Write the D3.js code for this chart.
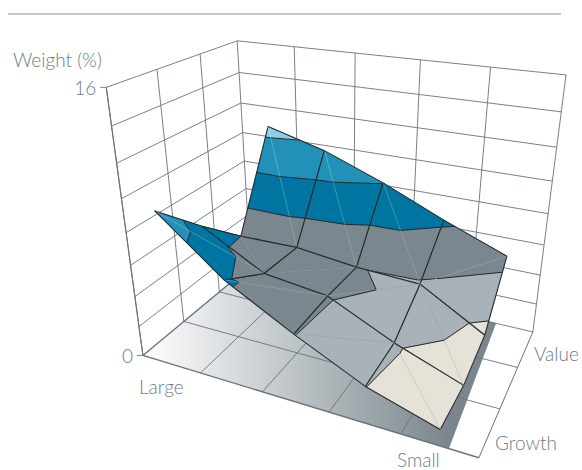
<!DOCTYPE html>
<html><head><meta charset="utf-8">
<script src="https://cdn.jsdelivr.net/npm/d3@7/dist/d3.min.js"></script>
<style>html,body{margin:0;background:#fff}svg{display:block}text{font-family:Lato,sans-serif;font-size:19px;font-weight:300;fill:#6f7b83}</style>
</head><body><svg id="chart" width="582" height="470"></svg>
<script>
// Portfolio weight by size (Large to Small) and style (Growth to Value)
const sizeCount = 5;
const styleCount = 4;
const weightLarge  = [9.49, 6.86, 4.43, 10.6];
const weightUpper  = [6.28, 4.66, 4.49, 9.55];
const weightMiddle = [4.05, 4.17, 4.035, 8.04];
const weightLower  = [2.02, 2.2, 3.84, 6.28];
const weightSmall  = [0.7, 0.63, 1.43, 4.68];
const weights = [weightLarge, weightUpper, weightMiddle, weightLower, weightSmall];

// Triangulation of each surface cell: "/" joins (i,j)-(i+1,j+1), "\\" joins (i,j+1)-(i+1,j)
const cellDiagonals = [["/", "\\", "\\"], ["/", "/", "\\"], ["/", "/", "\\"], ["\\", "\\", "/"]];
const quietSeams = ["0,1", "1,1"];
// Sliver of the 6-8 band folded behind the ridge along the Large edge
const foldedSliver = [[0, 1], [0, 2], [0.44, 1]];

const bandLevels = [2, 4, 6, 8, 10];
const bandColors = ["#e6e2d8", "#a9b2b9", "#7b878e", "#0075a1", "#2291b7", "#8ccfe3"];
const seamColors = ["#c9c7bc", "#9ca5ab", "#939da3", "#4a9fc0", "#66b3cf", "#b5e0ee"];
const weightTicks = [0, 2, 4, 6, 8, 10, 12, 14, 16];
const sizeTicks = [0, 0.2, 0.4, 0.6, 0.8, 1];
const styleTicks = [0, 1 / 3, 2 / 3, 1];

const sizeScale = d3.scaleLinear([0, sizeCount - 1], [0.09, 0.895]);
const styleScale = d3.scaleLinear([0, styleCount - 1], [0.03, 1.02]);
const weightScale = d3.scaleLinear([0, 16], [0, 1]);
const seamColor = d3.scaleThreshold(bandLevels, seamColors);

// Projective camera for the unit box
const cam = [253.4675, 163.4932, -53.21226, 142.9306,
             23.50657, -30.16429, -281.6961, 355.4296,
             -0.1722361, 0.2229560, -0.1555825];
const depth = (X, Y, Z) => cam[8] * X + cam[9] * Y + cam[10] * Z + 1;
const project = (X, Y, Z) => {
  const w = depth(X, Y, Z);
  return [(cam[0] * X + cam[1] * Y + cam[2] * Z + cam[3]) / w,
          (cam[4] * X + cam[5] * Y + cam[6] * Z + cam[7]) / w];
};
const toScreen = p => project(sizeScale(p.i), styleScale(p.j), weightScale(p.z));
const toDepth = p => depth(sizeScale(p.i), styleScale(p.j), weightScale(p.z));

const svg = d3.select("#chart");
const line = d3.line();
const closed = d3.line().curve(d3.curveLinearClosed);
const boxLine = (a, b, stroke, width) => svg.append("path")
  .attr("d", line([project(...a), project(...b)]))
  .attr("fill", "none").attr("stroke", stroke).attr("stroke-width", width);

// Rule under the heading
svg.append("path").attr("d", line([[8, 14], [561, 14]])).attr("stroke", "#b3b7ba").attr("stroke-width", 1.6);

// Floor shading runs from white at the Large side to slate at the Small side
const defs = svg.append("defs");
const grad = defs.append("linearGradient").attr("id", "floorShade")
  .attr("gradientUnits", "userSpaceOnUse").attr("x1", 143).attr("x2", 450).attr("y1", 0).attr("y2", 0);
grad.append("stop").attr("offset", 0).attr("stop-color", "#ffffff");
grad.append("stop").attr("offset", 1).attr("stop-color", "#7a868c");
const floorOutline = [[0, 0], [0.925, 0], [0.886, 1], [0, 1]];
svg.append("path")
  .attr("d", closed(floorOutline.map(([x, y]) => project(x, y, 0))))
  .attr("fill", "url(#floorShade)");

// Floor and wall grids
const gridInk = "#67747c";
styleTicks.slice(1, -1).forEach(y => boxLine([0, y, 0], [1, y, 0], gridInk, 0.9));
sizeTicks.slice(1, -1).forEach(x => boxLine([x, 0, 0], [x, 1, 0], gridInk, 0.9));
weightTicks.slice(1).forEach(z => {
  const Z = weightScale(z);
  boxLine([0, 0, Z], [0, 1, Z], gridInk, 0.9);
  boxLine([0, 1, Z], [1, 1, Z], gridInk, 0.9);
});
styleTicks.slice(0, -1).forEach(y => boxLine([0, y, 0], [0, y, 1], gridInk, 0.9));
sizeTicks.forEach(x => boxLine([x, 1, 0], [x, 1, 1], gridInk, 0.9));
boxLine([0, 1, 0], [1, 1, 0], gridInk, 0.9);
boxLine([1, 0, 0], [1, 1, 0], gridInk, 1);
boxLine([0, 0, 0], [1, 0, 0], gridInk, 1.4);
boxLine([0, 0, 0], [0, 1, 0], gridInk, 1.4);
boxLine([0, 0, 0], [0, 0, 1], gridInk, 1.1);

// Surface triangles, tagged with which sides are mesh lines and which is the seam
const node = (i, j) => ({ i, j, z: weights[i][j] });
const triangles = [];
for (let i = 0; i < sizeCount - 1; i++) for (let j = 0; j < styleCount - 1; j++) {
  const a = node(i, j), b = node(i + 1, j), c = node(i + 1, j + 1), d = node(i, j + 1);
  const quiet = quietSeams.includes(i + "," + j);
  if (cellDiagonals[i][j] === "/") {
    triangles.push({ v: [a, b, c], seam: [a, c], quiet }, { v: [a, c, d], seam: [a, c], quiet });
  } else {
    triangles.push({ v: [a, b, d], seam: [b, d], quiet }, { v: [b, c, d], seam: [b, d], quiet });
  }
}
triangles.forEach(t => t.far = d3.mean(t.v, toDepth));
triangles.sort((p, q) => q.far - p.far);

const mix = (p, q, t) => ({ i: p.i + (q.i - p.i) * t, j: p.j + (q.j - p.j) * t, z: p.z + (q.z - p.z) * t });
function clipAt(poly, level, keepAbove) {
  const out = [];
  poly.forEach((p, k) => {
    const q = poly[(k + 1) % poly.length];
    const pIn = keepAbove ? p.z >= level : p.z <= level;
    const qIn = keepAbove ? q.z >= level : q.z <= level;
    if (pIn) out.push(p);
    if (pIn !== qIn) out.push(mix(p, q, (level - p.z) / (q.z - p.z)));
  });
  return out;
}
const bandEdges = [-Infinity, ...bandLevels, Infinity];
const meshInk = "#23282b";

triangles.forEach(t => {
  const g = svg.append("g");
  // Filled bands
  bandEdges.slice(0, -1).forEach((lo, b) => {
    const hi = bandEdges[b + 1];
    let poly = clipAt(t.v, lo, true);
    if (poly.length) poly = clipAt(poly, hi, false);
    if (poly.length < 3) return;
    g.append("path").attr("d", closed(poly.map(toScreen)))
      .attr("fill", bandColors[b]).attr("stroke", bandColors[b]).attr("stroke-width", 0.4);
  });
  // Faint triangulation seam, coloured band by band
  if (!t.quiet) {
    const [s0, s1] = t.seam;
    const cuts = [0, 1];
    bandLevels.forEach(l => { const f = (l - s0.z) / (s1.z - s0.z); if (f > 0 && f < 1) cuts.push(f); });
    cuts.sort(d3.ascending);
    d3.pairs(cuts).forEach(([f0, f1]) => {
      const p = mix(s0, s1, f0), q = mix(s0, s1, f1);
      g.append("path").attr("d", line([toScreen(p), toScreen(q)])).attr("fill", "none")
        .attr("stroke", seamColor((p.z + q.z) / 2)).attr("stroke-width", 0.6);
    });
  }
  // Contour segments where the triangle crosses a band boundary
  bandLevels.forEach(l => {
    const hits = [];
    t.v.forEach((p, k) => {
      const q = t.v[(k + 1) % 3];
      if ((p.z - l) * (q.z - l) < 0) hits.push(mix(p, q, (l - p.z) / (q.z - p.z)));
    });
    if (hits.length === 2) g.append("path").attr("d", line(hits.map(toScreen))).attr("fill", "none")
      .attr("stroke", meshInk).attr("stroke-width", 1);
  });
  // Mesh lines
  t.v.forEach((p, k) => {
    const q = t.v[(k + 1) % 3];
    const isSeam = t.seam.includes(p) && t.seam.includes(q);
    if (!isSeam) g.append("path").attr("d", line([toScreen(p), toScreen(q)])).attr("fill", "none")
      .attr("stroke", meshInk).attr("stroke-width", 1.05);
  });
});

// Folded sliver
const surfaceAt = (u, v) => {
  const i0 = Math.min(Math.floor(u), sizeCount - 2), j0 = Math.min(Math.floor(v), styleCount - 2);
  const s = u - i0, r = v - j0;
  return { i: u, j: v, z: d3.interpolateNumber(
    d3.interpolateNumber(weights[i0][j0], weights[i0 + 1][j0])(s),
    d3.interpolateNumber(weights[i0][j0 + 1], weights[i0 + 1][j0 + 1])(s))(r) };
};
svg.append("path").attr("d", closed(foldedSliver.map(([u, v]) => toScreen(surfaceAt(u, v)))))
  .attr("fill", bandColors[3]).attr("stroke", meshInk).attr("stroke-width", 1);

// Axis end ticks and labels
[0, 16].forEach(z => {
  const [x, y] = project(0, 0, weightScale(z));
  svg.append("path").attr("d", line([[x - 6, y], [x, y]])).attr("stroke", gridInk).attr("stroke-width", 0.9);
  svg.append("text").attr("x", x - 10).attr("y", y + 8).attr("text-anchor", "end").text(z);
});
const labels = [["Weight (%)", 13, 67], ["Large", 139, 394], ["Small", 397, 467], ["Growth", 495, 450], ["Value", 534, 361]];
labels.forEach(([t, x, y]) => svg.append("text").attr("x", x).attr("y", y).text(t));
</script></body></html>
